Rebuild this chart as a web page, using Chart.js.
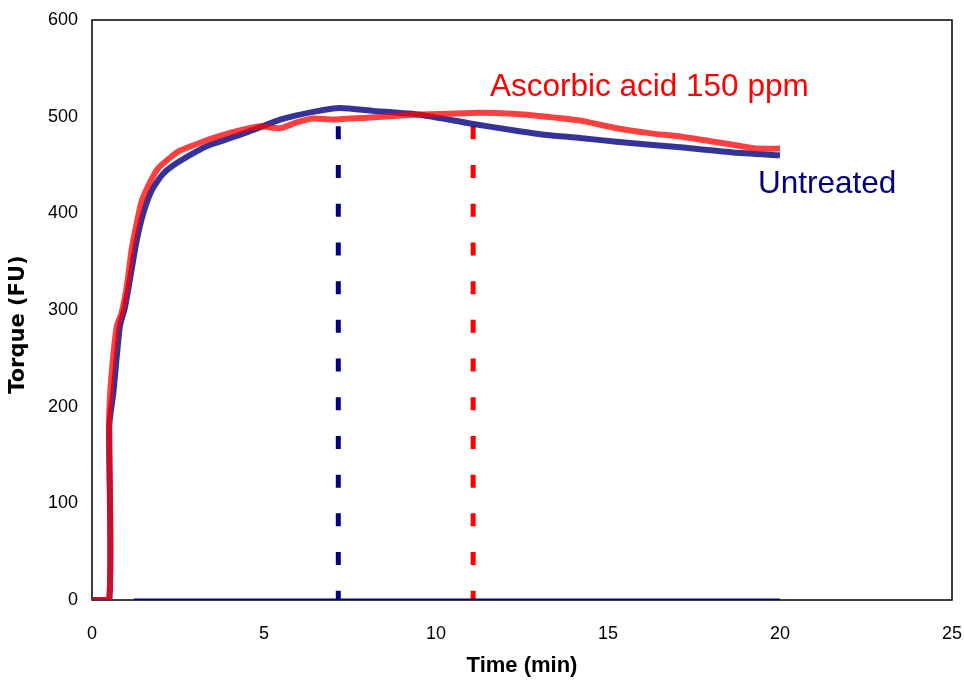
<!DOCTYPE html>
<html>
<head>
<meta charset="utf-8">
<script src="https://cdn.jsdelivr.net/npm/chart.js@4/dist/chart.umd.min.js"></script>
<style>
  html, body { margin: 0; padding: 0; background: #ffffff; }
  #wrap { width: 964px; height: 683px; }
</style>
</head>
<body>
<div id="wrap"><canvas id="c" width="964" height="683"></canvas></div>
<script>
// ---- data ----
const ascorbicTime   = [0, 0.5, 0.5, 0.57, 0.72, 0.86, 1.01, 1.15, 1.30, 1.44, 1.64, 1.93, 2.32, 2.56, 2.99, 3.53, 4.2, 4.88, 5.47, 5.95, 6.43, 7.02, 7.99, 9.34, 10.31, 11.28, 12.24, 13.22, 14.19, 15.25, 16.2, 17.19, 18.64, 19.3, 20.0];
const ascorbicTorque = [0, 0, 190, 234, 283, 297, 324, 362, 390, 412, 429, 447, 459, 465, 471, 478, 485, 490, 488, 494, 498, 497, 499, 502, 503, 504, 503, 500, 496, 488, 483, 479, 471, 467, 467];

const untreatedTime   = [0, 0.5, 0.5, 0.62, 0.81, 0.96, 1.10, 1.30, 1.49, 1.74, 2.07, 2.51, 3.19, 3.53, 4.2, 4.88, 5.47, 6.43, 7.21, 8.18, 9.53, 10.99, 12.24, 13.22, 14.19, 15.25, 17.19, 18.64, 20.0];
const untreatedTorque = [0, 0, 180, 214, 283, 303, 331, 372, 400, 424, 441, 453, 467, 472, 480, 489, 497, 505, 509, 506, 502, 493, 486, 481, 478, 474, 468, 463, 460];

const baselineTime   = [1.22, 20.0];
const baselineTorque = [0, 0];

const untreatedPeakTime   = [7.16, 7.16];
const untreatedPeakTorque = [490, 0];
const ascorbicPeakTime    = [11.08, 11.08];
const ascorbicPeakTorque  = [490, 0];

const xTicks = [0, 5, 10, 15, 20, 25];
const yTicks = [0, 100, 200, 300, 400, 500, 600];

const seriesNames = ['Ascorbic acid 150 ppm', 'Untreated'];
const xTitle = 'Time (min)';
const yTitle = 'Torque (FU)';

function pts(xs, ys) { return xs.map((x, i) => ({ x: x, y: ys[i] })); }

const RED = 'rgba(255,0,0,0.75)';
const BLUE = 'rgba(0,0,128,0.8)';
const NAVY = '#000080';
const PURE_RED = '#ff0000';

// annotation label positions in data units
const labelSpots = [
  { text: seriesNames[0], x: 11.57, y: 521, color: PURE_RED },
  { text: seriesNames[1], x: 19.36, y: 421, color: NAVY }
];

const boxPlugin = {
  id: 'box',
  beforeDatasetsDraw(chart) {
    const a = chart.chartArea, ctx = chart.ctx;
    ctx.save();
    ctx.strokeStyle = '#000';
    ctx.lineWidth = 1.5;
    ctx.strokeRect(a.left, a.top, a.right - a.left, a.bottom - a.top);
    ctx.restore();
  },
  afterDraw(chart) {
    const ctx = chart.ctx, xs = chart.scales.x, ys = chart.scales.y;
    ctx.save();
    ctx.font = '31.5px "Liberation Sans", Arial, sans-serif';
    ctx.textBaseline = 'alphabetic';
    ctx.textAlign = 'left';
    labelSpots.forEach(l => {
      ctx.fillStyle = l.color;
      ctx.fillText(l.text, xs.getPixelForValue(l.x), ys.getPixelForValue(l.y));
    });
    ctx.restore();
  }
};

const tickFont = { family: '"Liberation Sans", Arial, sans-serif', size: 18 };

new Chart(document.getElementById('c'), {
  type: 'line',
  data: {
    datasets: [
      { label: seriesNames[0], data: pts(ascorbicTime, ascorbicTorque), borderColor: RED, borderWidth: 6, pointRadius: 0, tension: 0.2, fill: false },
      { label: seriesNames[1], data: pts(untreatedTime, untreatedTorque), borderColor: BLUE, borderWidth: 6, pointRadius: 0, tension: 0.2, fill: false },
      { label: 'baseline', data: pts(baselineTime, baselineTorque), borderColor: NAVY, borderWidth: 3, pointRadius: 0, fill: false },
      { label: 'Untreated peak', data: pts(untreatedPeakTime, untreatedPeakTorque), borderColor: NAVY, borderWidth: 5, borderDash: [13, 25.7], borderCapStyle: 'butt', pointRadius: 0, fill: false },
      { label: 'Ascorbic peak', data: pts(ascorbicPeakTime, ascorbicPeakTorque), borderColor: PURE_RED, borderWidth: 5, borderDash: [13, 25.7], borderCapStyle: 'butt', pointRadius: 0, fill: false }
    ]
  },
  options: {
    responsive: false,
    animation: false,
    devicePixelRatio: 1,
    layout: { padding: { left: 0, right: 12, top: 20, bottom: 0 } },
    plugins: { legend: { display: false }, tooltip: { enabled: false } },
    scales: {
      x: {
        type: 'linear', min: 0, max: 25,
        afterBuildTicks: s => { s.ticks = xTicks.map(v => ({ value: v })); },
        afterFit: s => { s.height = 83; s.paddingLeft = 0; s.paddingRight = 0; },
        grid: { display: false, drawTicks: false },
        border: { display: false },
        ticks: { font: tickFont, color: '#000', padding: 23, maxRotation: 0 },
        title: { display: true, text: xTitle, color: '#000', padding: { top: 0, bottom: 4 },
                 font: { family: '"Liberation Sans", Arial, sans-serif', size: 22, weight: 'bold' } }
      },
      y: {
        type: 'linear', min: 0, max: 600,
        afterBuildTicks: s => { s.ticks = yTicks.map(v => ({ value: v })); },
        afterFit: s => { s.width = 92; s.paddingTop = 0; s.paddingBottom = 0; },
        grid: { display: false, drawTicks: false },
        border: { display: false },
        ticks: { font: tickFont, color: '#000', padding: 14 },
        title: { display: true, text: yTitle + '    ', color: '#000', padding: { top: 6, bottom: 0 },
                 font: { family: '"DejaVu Sans", Verdana, sans-serif', size: 21, weight: 'bold' } }
      }
    }
  },
  plugins: [boxPlugin]
});
</script>
</body>
</html>
